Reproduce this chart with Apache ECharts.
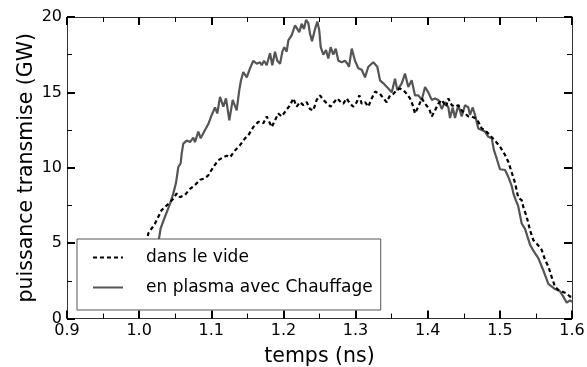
<!DOCTYPE html>
<html>
<head>
<meta charset="utf-8">
<script src="https://cdn.jsdelivr.net/npm/echarts@6/dist/echarts.min.js"></script>
<style>html,body{margin:0;padding:0;background:#fff}#c{width:587px;height:367px}</style>
</head>
<body>
<div id="c"></div>
<script>
// x ticks / y ticks
const xTicks = [0.9, 1.0, 1.1, 1.2, 1.3, 1.4, 1.5, 1.6];
const yTicks = [0, 5, 10, 15, 20];
const seriesNames = ['dans le vide', 'en plasma avec Chauffage'];

// "dans le vide" (dashed)
const timeVide = [1.0,1.006,1.0127,1.022,1.0313,1.0382,1.0474,1.0521,1.0566,1.0636,1.0705,1.0774,1.0844,1.0913,1.0959,1.1028,1.1097,1.1167,1.1214,1.126,1.1329,1.1398,1.1467,1.1513,1.1583,1.1652,1.1721,1.1768,1.1838,1.1883,1.1929,1.1976,1.2036,1.2091,1.2137,1.2184,1.223,1.2276,1.2323,1.2368,1.2414,1.2461,1.2507,1.2553,1.2608,1.2655,1.2701,1.2747,1.2794,1.283,1.2877,1.2923,1.2969,1.3016,1.3052,1.3085,1.3131,1.3177,1.3224,1.327,1.3339,1.3385,1.3432,1.3477,1.3523,1.357,1.3616,1.3662,1.3709,1.3755,1.3792,1.3824,1.387,1.3917,1.3963,1.4022,1.4056,1.4101,1.4147,1.4194,1.4254,1.4286,1.4333,1.4378,1.4424,1.4471,1.4517,1.4563,1.461,1.4656,1.4701,1.4749,1.4794,1.4864,1.4933,1.5002,1.5072,1.5117,1.5164,1.521,1.5256,1.5303,1.5325,1.5372,1.5418,1.5464,1.5533,1.558,1.5626,1.5672,1.5719,1.5765,1.581,1.5858,1.5927,1.5973,1.6];
const valVide = [1.8,3.8,5.65,6.3,7.2,7.5,7.95,8.3,8.05,8.2,8.6,8.85,9.2,9.3,9.5,10.05,10.5,10.7,10.8,10.7,11.15,11.5,11.95,12.15,12.7,13.05,12.95,13.4,12.7,13.15,13.6,13.4,13.8,14.15,14.6,14.05,14.35,14.15,14.35,13.9,13.8,14.5,14.8,14.5,14.25,14.05,14.35,14.6,14.35,14.25,14.6,14.25,14.05,14.35,14.8,14.25,14.35,14.05,14.6,15.05,14.9,14.6,14.35,14.8,14.9,15.15,15.25,15.15,14.9,14.6,14.15,13.6,14.05,14.6,14.25,13.9,13.4,13.8,14.25,14.5,14.05,14.6,14.15,14.05,14.15,13.8,13.6,13.4,13.4,13.3,13.05,12.6,12.5,12.15,11.8,11.4,10.85,10.4,9.7,9.0,8.0,7.85,7.4,6.75,5.85,5.2,4.85,4.55,3.9,3.45,2.75,2.1,1.9,1.8,1.65,1.45,1.45];

// "en plasma avec Chauffage" (solid gray)
const timePlasma = [1.022,1.025,1.0275,1.0299,1.0358,1.0428,1.0474,1.0511,1.0543,1.0576,1.059,1.0612,1.0659,1.0705,1.0751,1.0774,1.082,1.0853,1.0913,1.0959,1.1006,1.1052,1.1083,1.1121,1.1167,1.1204,1.125,1.1297,1.1352,1.1388,1.1412,1.1444,1.1491,1.1537,1.1583,1.163,1.1675,1.1699,1.1731,1.1768,1.1814,1.1846,1.1883,1.1915,1.1953,1.1985,1.2012,1.2045,1.2068,1.2115,1.2161,1.2188,1.222,1.2253,1.2285,1.2313,1.2345,1.2368,1.2396,1.2438,1.247,1.2497,1.2517,1.2553,1.259,1.2622,1.2655,1.2691,1.2725,1.2761,1.2808,1.2854,1.2886,1.2909,1.2947,1.2992,1.3038,1.3085,1.3131,1.3177,1.3246,1.3301,1.3339,1.3385,1.3454,1.3501,1.3547,1.3579,1.364,1.3685,1.3731,1.3778,1.3824,1.387,1.3917,1.3963,1.4008,1.4056,1.4101,1.4147,1.4194,1.424,1.4286,1.4309,1.4347,1.4378,1.4424,1.4471,1.4517,1.4563,1.4586,1.4624,1.4656,1.4701,1.4749,1.4794,1.484,1.4887,1.4919,1.4957,1.5002,1.5072,1.5117,1.5164,1.5187,1.5224,1.5252,1.5303,1.5349,1.5418,1.5464,1.5533,1.5602,1.5672,1.5765,1.5834,1.588,1.5927,1.5973,1.6];
const valPlasma = [1.8,3.5,5.3,6.0,6.75,7.6,8.3,9.0,10.05,10.3,10.95,11.6,11.8,11.7,12.0,11.7,12.4,11.95,12.5,12.9,13.5,14.0,13.6,14.7,14.05,14.6,13.15,14.5,13.8,15.15,15.8,16.35,16.0,16.6,17.1,16.9,17.0,16.8,17.1,16.8,17.6,16.8,17.7,17.1,16.9,17.7,18.0,17.7,18.45,18.8,19.45,19.45,19.0,19.55,19.2,19.8,19.6,18.9,18.4,19.2,19.7,19.1,18.0,17.5,17.8,17.25,18.0,17.5,17.9,17.1,17.0,17.1,16.9,16.7,17.9,17.1,16.6,16.5,16.0,16.7,17.0,16.7,15.8,15.6,15.25,15.0,15.9,15.15,15.6,16.25,15.35,15.8,14.8,14.8,14.5,15.35,15.0,14.5,14.6,14.5,13.9,14.35,14.0,13.3,14.0,13.3,14.15,13.4,14.15,14.0,13.5,14.0,13.5,12.6,12.5,12.4,12.05,11.95,11.15,10.6,9.9,9.85,9.4,8.8,8.3,7.8,7.5,6.3,5.95,4.9,4.5,4.0,3.2,2.3,1.95,1.8,1.45,1.05,1.2,1.1];

const FONT = 'DejaVu Sans';
const chart = echarts.init(document.getElementById('c'), null, {renderer: 'canvas'});

function mkX(pos, labels) {
  return {
    type: 'value', position: pos, min: xTicks[0], max: xTicks[xTicks.length - 1], interval: 0.1,
    name: labels ? 'temps (ns)' : '', nameLocation: 'middle', nameGap: 28, nameMoveOverlap: false,
    nameTextStyle: {fontFamily: FONT, fontSize: 20.5, color: '#000'},
    axisLine: {show: true, onZero: false, lineStyle: {color: '#333', width: 1}},
    axisTick: {show: true, inside: true, length: 8, lineStyle: {color: '#000', width: 2}},
    minorTick: {show: true, splitNumber: 2, length: 5, lineStyle: {color: '#000', width: 1}},
    axisLabel: {show: labels, color: '#000', fontFamily: FONT, fontSize: 16, margin: 4,
      formatter: v => (Math.round(v * 10) / 10).toFixed(1)},
    splitLine: {show: false}
  };
}
function mkY(pos, labels) {
  return {
    type: 'value', position: pos, min: yTicks[0], max: yTicks[yTicks.length - 1], interval: 5,
    name: labels ? 'puissance transmise (GW)' : '', nameLocation: 'middle', nameGap: 30, nameMoveOverlap: false,
    nameTextStyle: {fontFamily: FONT, fontSize: 20.5, color: '#000'},
    axisLine: {show: true, onZero: false, lineStyle: {color: '#333', width: 1}},
    axisTick: {show: true, inside: true, length: 8, lineStyle: {color: '#000', width: 2}},
    minorTick: {show: true, splitNumber: 2, length: 5, lineStyle: {color: '#000', width: 1}},
    axisLabel: {show: labels, color: '#000', fontFamily: FONT, fontSize: 16, margin: 5},
    splitLine: {show: false}
  };
}

chart.setOption({
  animation: false,
  backgroundColor: '#fff',
  grid: {left: 67, right: 15, top: 17, bottom: 48.5, containLabel: false, outerBoundsMode: 'none'},
  xAxis: [mkX('bottom', true), mkX('top', false)],
  yAxis: [mkY('left', true), mkY('right', false)],
  legend: {
    orient: 'vertical', left: 77, top: 239,
    data: seriesNames,
    itemWidth: 30, itemHeight: 14, itemGap: 13,
    padding: [10, 8, 14, 15],
    backgroundColor: '#fff', borderColor: '#555', borderWidth: 1, borderRadius: 0,
    itemStyle: {opacity: 0},
    textStyle: {fontFamily: FONT, fontSize: 17, color: '#000', padding: [0, 0, 0, 18]},
    z: 10
  },
  series: [
    {
      name: seriesNames[0], type: 'line', showSymbol: false, symbol: 'none',
      data: timeVide.map((t, i) => [t, valVide[i]]),
      lineStyle: {color: '#000', width: 2.2, type: [4, 3]},
      itemStyle: {color: '#000'}, z: 3
    },
    {
      name: seriesNames[1], type: 'line', showSymbol: false, symbol: 'none',
      data: timePlasma.map((t, i) => [t, valPlasma[i]]),
      lineStyle: {color: '#555', width: 2.2},
      itemStyle: {color: '#555'}, z: 2
    }
  ]
});
</script>
</body>
</html>
